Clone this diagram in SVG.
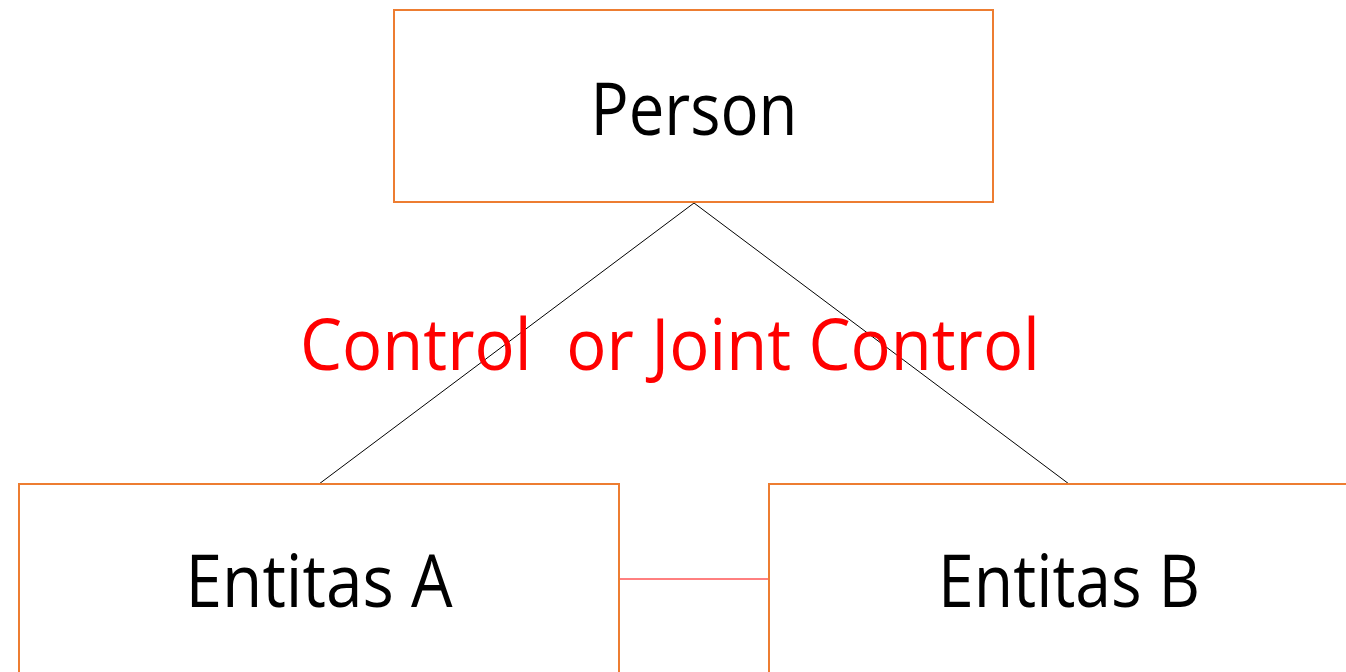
<svg xmlns="http://www.w3.org/2000/svg" width="1346" height="672" viewBox="0 0 1346 672">
<style>
.box{fill:#ffffff;stroke:#ed7d31;stroke-width:2}
.lbl{font-family:"Open Sans","Noto Sans",sans-serif;font-size:74px;fill:#000000;text-anchor:middle}
.red{font-family:"Open Sans","Noto Sans",sans-serif;font-size:72px;fill:#ff0000}
.ln{stroke:#000000;stroke-width:1;fill:none}
</style>
<rect width="1346" height="672" fill="#ffffff"/>
<g id="connectors">
<line class="ln" x1="694" y1="203" x2="319" y2="484"/>
<line class="ln" x1="694" y1="203" x2="1069" y2="484"/>
<line x1="619" y1="579" x2="769" y2="579" stroke="#ff0000" stroke-width="1"/>
</g>
<g id="person">
<rect class="box" x="394" y="10" width="599" height="192"/>
<text class="lbl" x="694" y="135" textLength="207" lengthAdjust="spacingAndGlyphs">Person</text>
</g>
<g id="entitas-a">
<rect class="box" x="19" y="484" width="600" height="200"/>
<text class="lbl" x="319" y="607" textLength="267" lengthAdjust="spacingAndGlyphs">Entitas A</text>
</g>
<g id="entitas-b">
<rect class="box" x="769" y="484" width="600" height="200"/>
<text class="lbl" x="1069" y="607" textLength="262" lengthAdjust="spacingAndGlyphs">Entitas B</text>
</g>
<g id="label">
<text class="red" x="300" y="370" textLength="740" lengthAdjust="spacingAndGlyphs" xml:space="preserve">Control  or Joint Control</text>
</g>
</svg>
